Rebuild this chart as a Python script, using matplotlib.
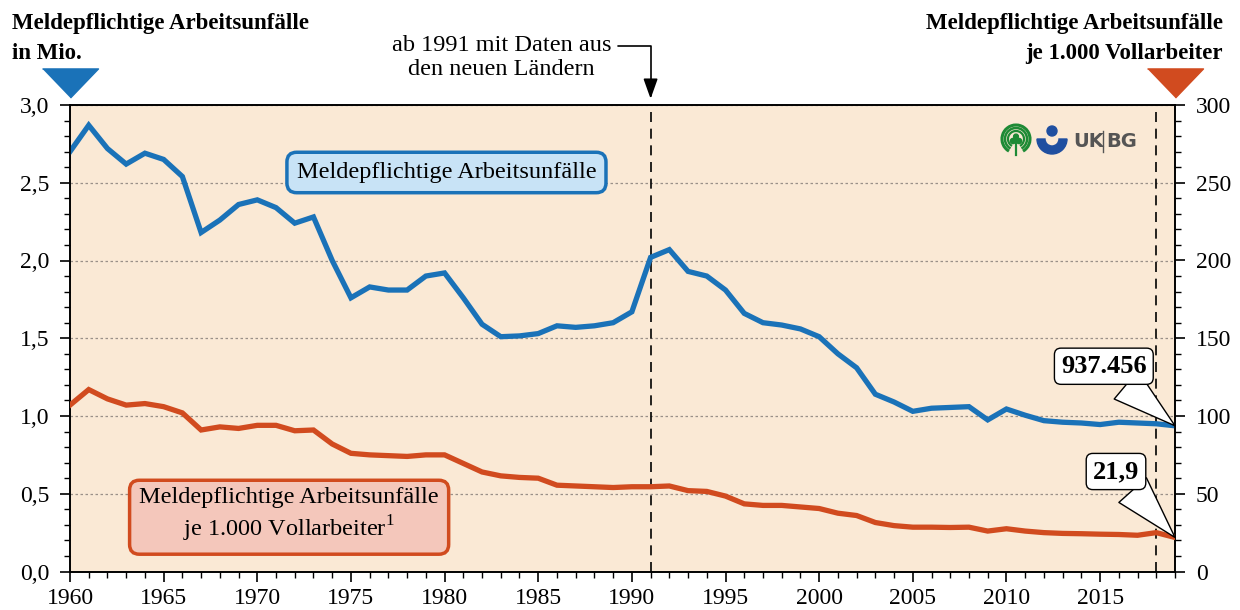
import matplotlib.pyplot as plt
import matplotlib.patches as mpatches
import numpy as np

plt.rcParams['font.family'] = ['Liberation Serif', 'DejaVu Serif']
plt.rcParams['mathtext.fontset'] = 'custom'
plt.rcParams['mathtext.rm'] = 'Liberation Serif'

# data
years = list(range(1960, 2020))
unfaelle_mio = [2.70, 2.87, 2.72, 2.62, 2.69, 2.65, 2.54, 2.18, 2.26, 2.36,
                2.39, 2.34, 2.24, 2.28, 2.00, 1.76, 1.83, 1.81, 1.81, 1.90,
                1.92, 1.76, 1.59, 1.51, 1.515, 1.53, 1.58, 1.57, 1.58, 1.60,
                1.67, 2.02, 2.07, 1.93, 1.90, 1.81, 1.66, 1.60, 1.585, 1.56,
                1.51, 1.40, 1.31, 1.14, 1.09, 1.03, 1.05, 1.055, 1.06, 0.975,
                1.045, 1.005, 0.97, 0.96, 0.955, 0.945, 0.96, 0.955, 0.95, 0.937]
je_1000 = [107, 117, 111, 107, 108, 106, 102, 91, 93, 92,
           94, 94, 90.5, 91, 82, 76, 75, 74.5, 74, 75,
           75, 69.5, 64, 61.5, 60.5, 60, 55.5, 55, 54.5, 54,
           54.5, 54.5, 55, 52, 51.5, 48.5, 43.5, 42.5, 42.5, 41.5,
           40.5, 37.5, 36, 31.5, 29.5, 28.5, 28.5, 28.3, 28.5, 26,
           27.5, 26, 25, 24.5, 24.3, 24, 23.8, 23.3, 25, 21.9]
left_ticks = [0.0, 0.5, 1.0, 1.5, 2.0, 2.5, 3.0]
left_labels = ['0,0', '0,5', '1,0', '1,5', '2,0', '2,5', '3,0']
right_ticks = [0, 50, 100, 150, 200, 250, 300]
x_ticks = list(range(1960, 2020, 5))
marker_years = [1991, 2018]

blue = '#1a72b8'
red = '#d14b1f'
bg = '#fae9d5'

fig = plt.figure(figsize=(12.4, 6.1), dpi=100)
ax = fig.add_axes([70 / 1240, 1 - 571.5 / 610, 1105 / 1240, 466.5 / 610])
ax2 = ax.twinx()
ax.set_facecolor(bg)

ax.plot(years, unfaelle_mio, color=blue, lw=3.8, solid_joinstyle='miter', zorder=5)
ax2.plot(years, je_1000, color=red, lw=3.8, solid_joinstyle='miter', zorder=5)

ax.set_xlim(1960, 2019)
ax.set_ylim(0, 3.0)
ax2.set_ylim(0, 300)

ax.set_xticks(x_ticks)
ax.set_xticks(years, minor=True)
ax.set_yticks(left_ticks)
ax.set_yticklabels(left_labels)
ax.set_yticks(np.arange(0, 3.01, 0.1), minor=True)
ax2.set_yticks(right_ticks)
ax2.set_yticks(np.arange(0, 301, 10), minor=True)

for a in (ax, ax2):
    a.tick_params(axis='both', which='major', direction='out', length=7, width=1.2, labelsize=17)
    a.tick_params(axis='both', which='minor', direction='out', length=4, width=1)
    a.tick_params(axis='y', which='major', pad=8)
    for s in a.spines.values():
        s.set_linewidth(1.2)
ax.tick_params(axis='x', which='major', pad=5)

ax.grid(axis='y', which='major', color='#9a9088', ls=(0, (2, 2)), lw=0.9)
ax.set_axisbelow(True)

for yr in marker_years:
    ax.axvline(yr, color='black', ls=(0, (6, 4)), lw=1.2, zorder=3)

# series labels
ax.text(1980.1, 2.566, 'Meldepflichtige Arbeitsunfälle', fontsize=17.5, ha='center', va='center',
        bbox=dict(boxstyle='round,pad=0.4,rounding_size=0.4', fc='#c8e3f6', ec=blue, lw=2.5), zorder=6)
ax.text(1971.7, 0.357, 'Meldepflichtige Arbeitsunfälle\nje 1.000 Vollarbeiter$^1$', fontsize=17.5,
        ha='center', va='center', linespacing=1.25,
        bbox=dict(boxstyle='round,pad=0.4,rounding_size=0.4', fc='#f4c7bb', ec=red, lw=2.5), zorder=6)

# callouts
ax.annotate('937.456', xy=(years[-1], unfaelle_mio[-1]), xytext=(2015.2, 1.32),
            fontsize=19, fontweight='bold', ha='center', va='center', zorder=7,
            bbox=dict(boxstyle='round,pad=0.25,rounding_size=0.25', fc='white', ec='black', lw=1),
            arrowprops=dict(arrowstyle='wedge,tail_width=1.4,shrink_factor=0.5', fc='white', ec='black', lw=1,
                            shrinkA=0, shrinkB=0))
ax2.annotate('21,9', xy=(years[-1], je_1000[-1]), xytext=(2015.85, 64.3),
             fontsize=19, fontweight='bold', ha='center', va='center', zorder=7,
             bbox=dict(boxstyle='round,pad=0.25,rounding_size=0.25', fc='white', ec='black', lw=1),
             arrowprops=dict(arrowstyle='wedge,tail_width=1.4,shrink_factor=0.5', fc='white', ec='black', lw=1,
                             shrinkA=0, shrinkB=0))

# 1991 note
ax.annotate('ab 1991 mit Daten aus\nden neuen Ländern', xy=(1991, 3.04), xytext=(1988.9, 3.306),
            fontsize=17.5, ha='right', va='center', multialignment='center', annotation_clip=False,
            linespacing=1.2,
            arrowprops=dict(arrowstyle='-|>,head_length=0.7,head_width=0.25', color='black', lw=1.2,
                            connectionstyle='angle,angleA=0,angleB=90,rad=0', shrinkA=3, shrinkB=0,
                            relpos=(1.0, 0.76)))

# axis titles
fig.text(12 / 1240, 1 - 13 / 610, 'Meldepflichtige Arbeitsunfälle\nin Mio.', fontsize=16.5,
         fontweight='bold', ha='left', va='top', linespacing=1.55)
fig.text(1223 / 1240, 1 - 13 / 610, 'Meldepflichtige Arbeitsunfälle\nje 1.000 Vollarbeiter', fontsize=16.5,
         fontweight='bold', ha='right', va='top', multialignment='right', linespacing=1.55)
tri = [(-1, 0.52), (1, 0.52), (0, -0.52)]
ax.scatter([0.0], [1.048], marker=tri, s=1625, color=blue, transform=ax.transAxes, clip_on=False, zorder=8)
ax.scatter([1.0], [1.048], marker=tri, s=1625, color=red, transform=ax.transAxes, clip_on=False, zorder=8)

# logo (approximate), drawn in pixel units on a small inset
lg = fig.add_axes([995 / 1240, 1 - 162 / 610, 145 / 1240, 46 / 610])
lg.set_xlim(995, 1140)
lg.set_ylim(162, 116)
lg.set_aspect('equal')
lg.axis('off')
green = '#1e8a35'
for r, w in [(14, 2.2), (11, 1.8), (8, 1.6)]:
    lg.add_patch(mpatches.Arc((1016, 139), 2 * r, 2 * r, theta1=120, theta2=420, color=green, lw=w))
lg.plot([1016, 1016], [140, 155], color=green, lw=1.6)
lg.add_patch(mpatches.Circle((1013, 141), 2.6, color=green))
lg.add_patch(mpatches.Circle((1019, 141), 2.6, color=green))
lg.add_patch(mpatches.Circle((1016, 136.5), 2.4, color=green))
lg.add_patch(mpatches.Wedge((1052, 139), 15, 0, 180, width=8, color='#1f4fa0'))
lg.add_patch(mpatches.Circle((1052, 131), 5, color='#1f4fa0'))
lg.text(1073, 141, 'UK', fontsize=14, fontweight='bold', family='DejaVu Sans', color='#555555',
        ha='left', va='center')
lg.plot([1103, 1103], [131, 152], color='#555555', lw=1)
lg.text(1106, 141, 'BG', fontsize=14, fontweight='bold', family='DejaVu Sans', color='#555555',
        ha='left', va='center')

fig.savefig('out.png', dpi=100)
